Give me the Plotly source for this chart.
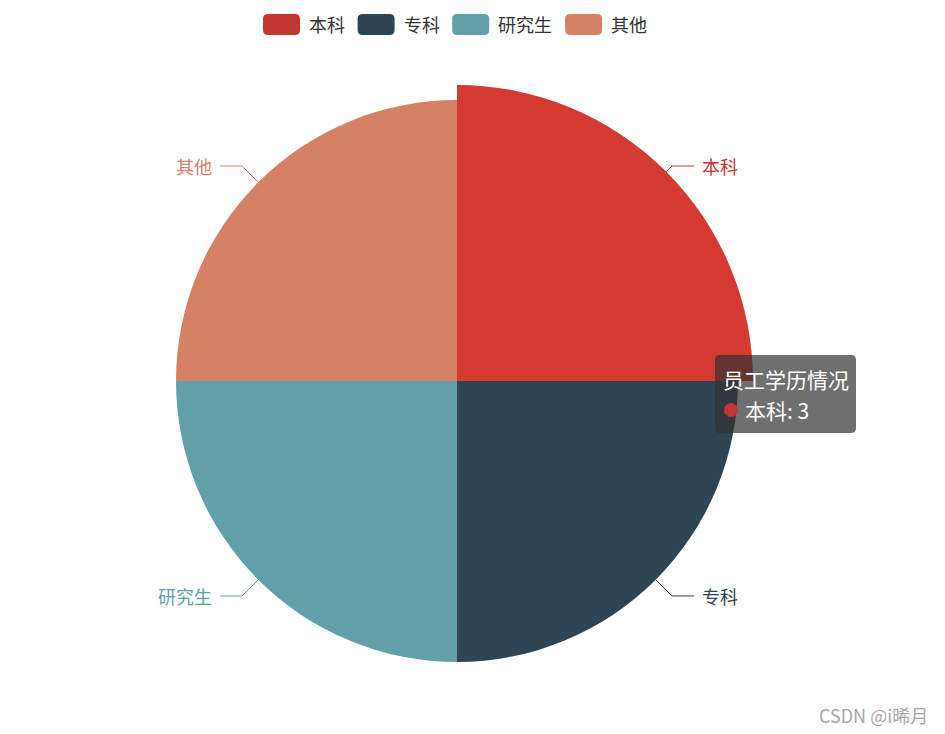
import math
import plotly.graph_objects as go

# ---- data ----
series_name = "员工学历情况"
categories = ["本科", "专科", "研究生", "其他"]
values = [3, 3, 3, 3]
highlight_index = 0
watermark = "CSDN @i晞月"

# ---- style ----
PAGE_W, PAGE_H = 945, 734
BODY = 8                      # default body margin of the html page
W, H = PAGE_W - 2 * BODY, PAGE_H - 2 * BODY
colors = ["#c23531", "#2f4554", "#61a0a8", "#d48265"]
emph_color = "#d43a32"
FONT = "Noto Sans CJK SC, Microsoft YaHei, sans-serif"
cx, cy = 457, 381          # pie centre (page px, y down)
R = 281                    # normal radius
R_EMPH = 296               # hovered slice radius
R_ELBOW = 304
SEG = 22

fig = go.Figure()


def dom(r):
    return dict(x=[(cx - BODY - r) / W, (cx - BODY + r) / W],
                y=[(H - (cy - BODY) - r) / H, (H - (cy - BODY) + r) / H])


base_colors = [emph_color if i == highlight_index else c for i, c in enumerate(colors)]
fig.add_trace(go.Pie(
    labels=categories, values=values, sort=False, direction="clockwise", rotation=0,
    marker=dict(colors=base_colors, line=dict(width=0)), textinfo="none",
    hoverinfo="skip", domain=dom(R), showlegend=False))

# hovered slice, enlarged
total = sum(values)
hv = values[highlight_index]
before = sum(values[:highlight_index])
fig.add_trace(go.Pie(
    labels=["_pre", categories[highlight_index], "_post"],
    values=[before, hv, total - before - hv], sort=False, direction="clockwise", rotation=0,
    marker=dict(colors=["rgba(0,0,0,0)", emph_color, "rgba(0,0,0,0)"], line=dict(width=0)),
    textinfo="none", hoverinfo="skip", domain=dom(R_EMPH), showlegend=False))

shapes = []
annotations = []

# label lines and labels
cum = 0
for i, (lab, v) in enumerate(zip(categories, values)):
    th = 2 * math.pi * (cum + v / 2) / total
    cum += v
    r0 = R_EMPH if i == highlight_index else R
    sx, sy = cx + r0 * math.sin(th), cy - r0 * math.cos(th)
    ex, ey = cx + R_ELBOW * math.sin(th), cy - R_ELBOW * math.cos(th)
    sgn = 1 if math.sin(th) >= 0 else -1
    hx = ex + sgn * SEG
    col = colors[i]
    shapes.append(dict(type="path", xref="x", yref="y",
                       path=f"M{sx},{sy} L{ex},{ey} L{hx},{ey}",
                       line=dict(color=col, width=1)))
    annotations.append(dict(x=hx + sgn * 6, y=ey, xref="x", yref="y", text=lab,
                            showarrow=False, xanchor="left" if sgn > 0 else "right",
                            yanchor="middle", font=dict(family=FONT, size=18, color=col)))

# legend (manual, ECharts style)
x = 263
ly = 24
for lab, col in zip(categories, colors):
    x0, x1, y0, y1, rr = x, x + 37, ly - 10, ly + 11, 5
    shapes.append(dict(type="path", xref="x", yref="y", fillcolor=col, line=dict(width=0),
                       path=(f"M{x0+rr},{y0} L{x1-rr},{y0} Q{x1},{y0} {x1},{y0+rr} "
                             f"L{x1},{y1-rr} Q{x1},{y1} {x1-rr},{y1} L{x0+rr},{y1} "
                             f"Q{x0},{y1} {x0},{y1-rr} L{x0},{y0+rr} Q{x0},{y0} {x0+rr},{y0} Z")))
    tx = x1 + 7
    annotations.append(dict(x=tx, y=ly, xref="x", yref="y", text=lab, showarrow=False,
                            xanchor="left", yanchor="middle",
                            font=dict(family=FONT, size=18, color="#333")))
    x = tx + len(lab) * 18.3 + 14

# tooltip
bx0, by0, bx1, by1, rr = 715, 355, 856, 433, 5
shapes.append(dict(type="path", xref="x", yref="y", fillcolor="rgba(50,50,50,0.7)",
                   line=dict(width=0), layer="above",
                   path=(f"M{bx0+rr},{by0} L{bx1-rr},{by0} Q{bx1},{by0} {bx1},{by0+rr} "
                         f"L{bx1},{by1-rr} Q{bx1},{by1} {bx1-rr},{by1} L{bx0+rr},{by1} "
                         f"Q{bx0},{by1} {bx0},{by1-rr} L{bx0},{by0+rr} Q{bx0},{by0} {bx0+rr},{by0} Z")))
shapes.append(dict(type="circle", xref="x", yref="y", x0=724, x1=738, y0=403, y1=417,
                   fillcolor=colors[highlight_index], line=dict(width=0)))
annotations.append(dict(x=721, y=379, xref="x", yref="y", text=series_name, showarrow=False,
                        xanchor="left", yanchor="middle",
                        font=dict(family=FONT, size=21, color="#fff")))
annotations.append(dict(x=743, y=410, xref="x", yref="y",
                        text=f"{categories[highlight_index]}: {values[highlight_index]}",
                        showarrow=False, xanchor="left", yanchor="middle",
                        font=dict(family=FONT, size=21, color="#fff")))

# watermark
annotations.append(dict(x=930, y=715, xref="x", yref="y", text=watermark, showarrow=False,
                        xanchor="right", yanchor="middle",
                        font=dict(family=FONT, size=18, color="#a8a8a8")))

fig.update_layout(
    width=W, height=H, margin=dict(l=0, r=0, t=0, b=0),
    paper_bgcolor="white", plot_bgcolor="rgba(0,0,0,0)", showlegend=False,
    xaxis=dict(range=[BODY, BODY + W], visible=False, fixedrange=True),
    yaxis=dict(range=[BODY + H, BODY], visible=False, fixedrange=True),
    shapes=shapes, annotations=annotations,
)

fig.write_html("out.html")
